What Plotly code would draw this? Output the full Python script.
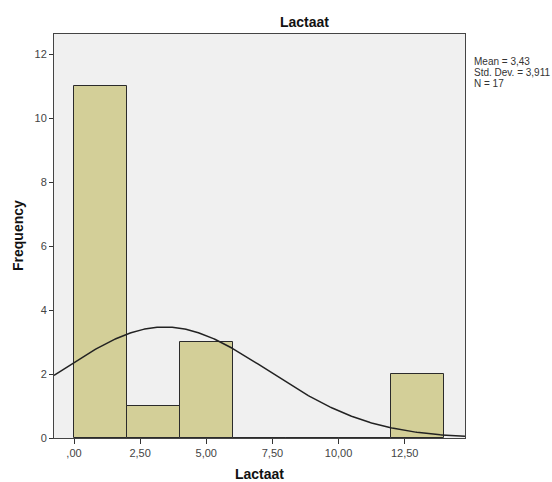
import numpy as np
import plotly.graph_objects as go

# Histogram data
bin_starts = [0, 2, 4, 6, 8, 10, 12]
bin_width = 2
frequencies = [11, 1, 3, 0, 0, 0, 2]
mean_val = 3.43
std_val = 3.911
n_val = 17

x_tickvals = [0, 2.5, 5, 7.5, 10, 12.5]
x_ticktext = [",00", "2,50", "5,00", "7,50", "10,00", "12,50"]
y_tickvals = [0, 2, 4, 6, 8, 10, 12]
stats_lines = ["Mean = 3,43", "Std. Dev. = 3,911", "N = 17"]

x_range = [-0.756, 14.78]
y_range = [0, 12.625]

W, H = 552, 482
L, R, T, B = 54, 465, 34, 438


def px(x):
    return (x - L) / (R - L)


def py(y):
    return (B - y) / (B - T)


fig = go.Figure()
fig.add_trace(go.Bar(
    x=[s + bin_width / 2 for s in bin_starts],
    y=frequencies,
    width=bin_width,
    marker=dict(color="#D3CF98", line=dict(color="#2b2b2b", width=1)),
    showlegend=False,
))

# Normal curve from the stated mean / std / N
xc = np.linspace(x_range[0], x_range[1], 300)
yc = n_val * bin_width / (std_val * np.sqrt(2 * np.pi)) * np.exp(-0.5 * ((xc - mean_val) / std_val) ** 2)
fig.add_trace(go.Scatter(x=xc, y=yc, mode="lines",
                         line=dict(color="#222222", width=1.5), showlegend=False))

annotations = [
    dict(text="<b>Lactaat</b>", x=px(304), y=py(22), xref="paper", yref="paper",
         xanchor="center", yanchor="middle",
         showarrow=False, font=dict(size=14, color="#111111")),
    dict(text="<b>Lactaat</b>", x=px(259.5), y=py(474), xref="paper", yref="paper",
         xanchor="center", yanchor="middle",
         showarrow=False, font=dict(size=14, color="#111111")),
    dict(text="<b>Frequency</b>", x=px(18), y=py(236), xref="paper", yref="paper",
         xanchor="center", yanchor="middle",
         showarrow=False, textangle=-90, font=dict(size=14, color="#111111")),
]
for i, line in enumerate(stats_lines):
    annotations.append(dict(text=line, x=px(472), y=py(62 + 10.5 * i), xref="paper", yref="paper",
                            xanchor="left", yanchor="middle", showarrow=False,
                            font=dict(size=10, color="#333333")))

fig.update_layout(
    width=W, height=H,
    margin=dict(l=L, r=W - R, t=T, b=H - B, autoexpand=False),
    paper_bgcolor="white",
    plot_bgcolor="#F0F0F0",
    font=dict(family="Liberation Sans, Arial", size=11, color="#333333"),
    bargap=0,
    hovermode=False,
    annotations=annotations,
)

fig.update_xaxes(range=x_range, tickvals=x_tickvals, ticktext=x_ticktext,
                 ticks="outside", ticklen=5, tickcolor="#333333",
                 showline=True, linecolor="#444444", linewidth=1, mirror=True,
                 showgrid=False, zeroline=False, automargin=False,
                 tickfont=dict(size=11, color="#444444"))
fig.update_yaxes(range=y_range, tickvals=y_tickvals,
                 ticks="outside", ticklen=4, tickcolor="#333333",
                 showline=True, linecolor="#444444", linewidth=1, mirror=True,
                 showgrid=False, zeroline=False, automargin=False,
                 tickfont=dict(size=11, color="#444444"))

fig.write_html("out.html", config={"displayModeBar": False},
               post_script="document.body.style.margin='0';document.body.style.padding='0';")
